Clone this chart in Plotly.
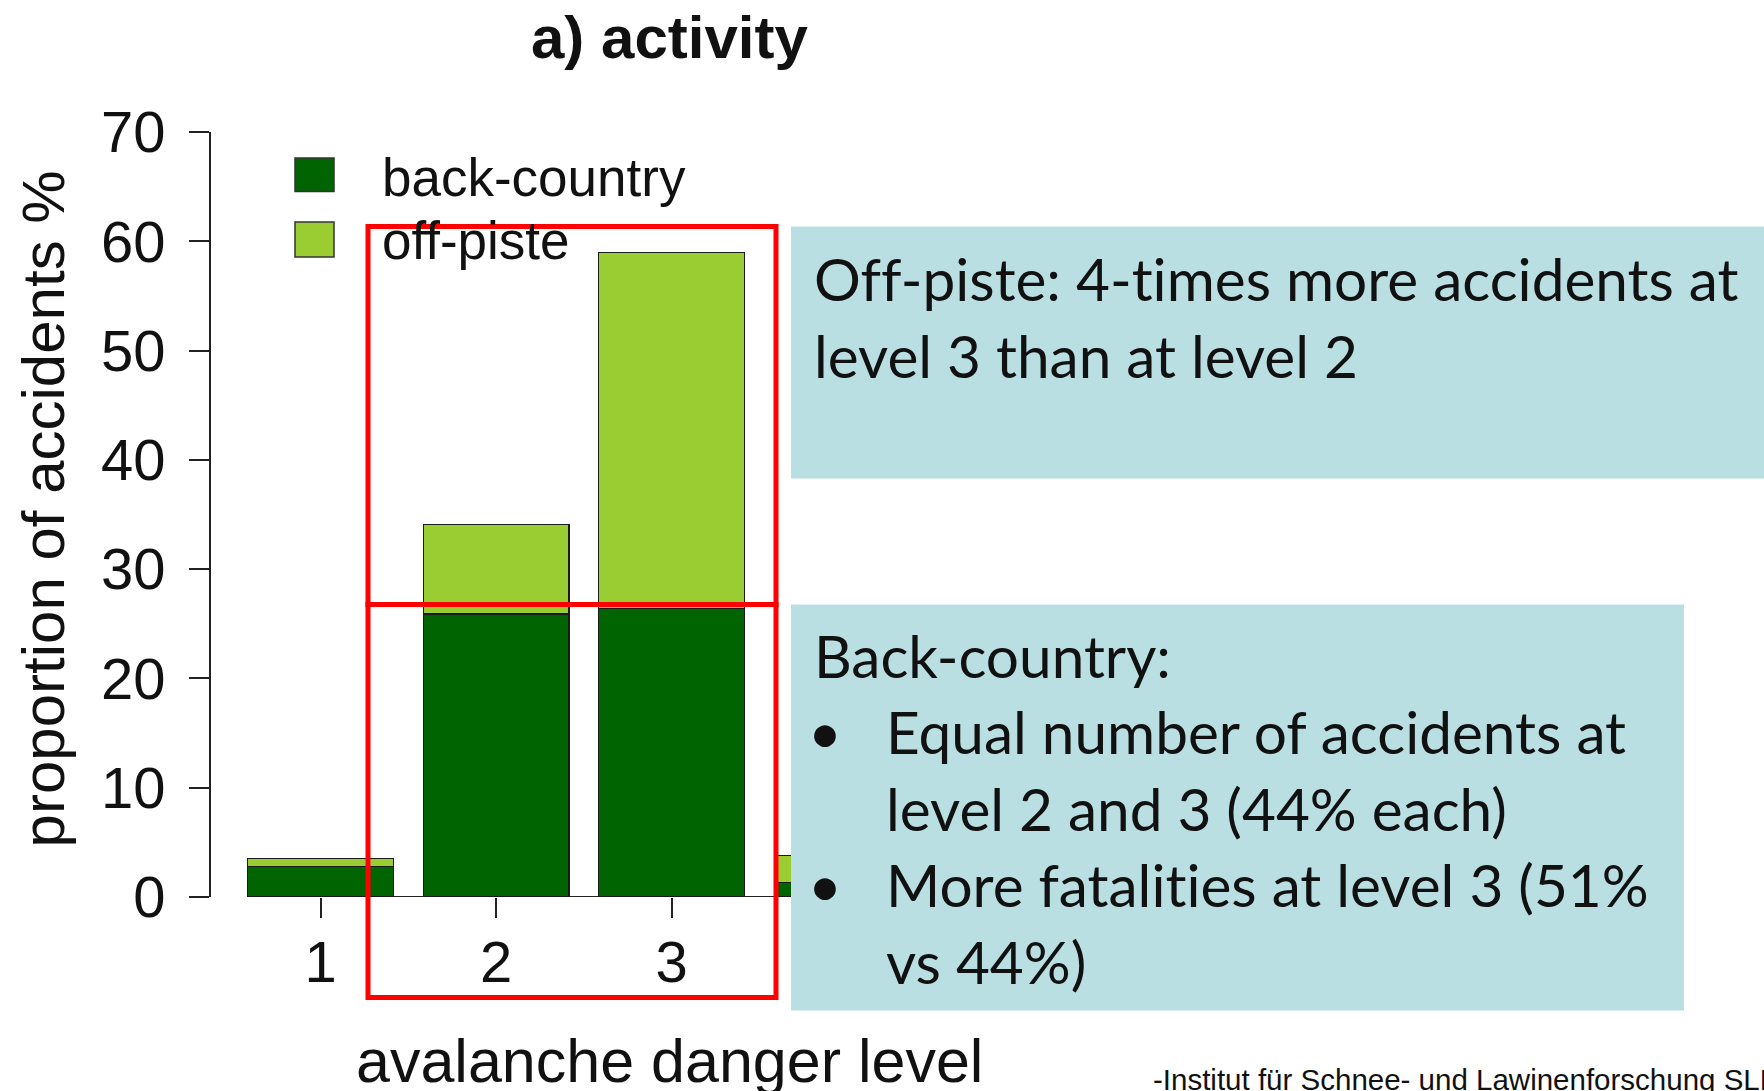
import plotly.graph_objects as go

# --------------------------- DATA ---------------------------
levels = [1, 2, 3, 4]
back_country = [2.8, 25.9, 26.4, 1.3]
off_piste = [0.7, 8.2, 32.6, 2.5]
tick_vals = [1, 2, 3, 4, 5]
tick_labels = ["1", "2", "3", "4", "5"]
y_ticks = [0, 10, 20, 30, 40, 50, 60, 70]

box1_lines = ["Off-piste: 4-times more accidents at", "level 3 than at level 2"]
box2_head = "Back-country:"
box2_lines = [
    ("•", "Equal number of accidents at"),
    ("", "level 2 and 3 (44% each)"),
    ("•", "More fatalities at level 3 (51%"),
    ("", "vs 44%)"),
]

DARK = "#006400"
LIGHT = "#9ACD32"
TEAL = "#B9DFE3"
AX_FONT = "Arial, Liberation Sans, sans-serif"
BOX_FONT = "Lato, Carlito, Calibri, sans-serif"
BOX_SIZE = 58.5

# figure / plot area in pixels
W, H = 1764, 1091
L, R, T, B = 211, 1128, 131.6, 896.6


def px(x):
    return (x - L) / (R - L)


def py(y):
    return (B - y) / (B - T)


fig = go.Figure()

fig.add_trace(go.Bar(
    x=levels, y=back_country, name="back-country", width=0.83,
    marker=dict(color=DARK, line=dict(color="#1a1a1a", width=1.2)),
    showlegend=False,
))
fig.add_trace(go.Bar(
    x=levels, y=off_piste, name="off-piste", width=0.83,
    marker=dict(color=LIGHT, line=dict(color="#1a1a1a", width=1.2)),
    showlegend=False,
))

shapes = []
# R-style x axis line between first and last tick
shapes.append(dict(type="line", xref="x", yref="y", x0=tick_vals[0], x1=tick_vals[-1],
                   y0=0, y1=0, line=dict(color="#222", width=2), layer="below"))

# legend keys
for (y0, y1), col in [((157.5, 191), DARK), ((221.6, 256.5), LIGHT)]:
    shapes.append(dict(type="rect", xref="paper", yref="paper",
                       x0=px(295), x1=px(334), y0=py(y1), y1=py(y0),
                       fillcolor=col, line=dict(color="#333", width=1.5)))

# red highlight boxes
for y0, y1 in [(226, 604), (604, 997)]:
    shapes.append(dict(type="rect", xref="paper", yref="paper",
                       x0=px(368), x1=px(776), y0=py(y1), y1=py(y0),
                       line=dict(color="#FF0000", width=5), layer="above"))

# teal text boxes
shapes.append(dict(type="rect", xref="paper", yref="paper",
                   x0=px(791), x1=px(1770), y0=py(478), y1=py(226),
                   fillcolor=TEAL, line=dict(width=0), layer="above"))
shapes.append(dict(type="rect", xref="paper", yref="paper",
                   x0=px(791), x1=px(1684), y0=py(1010), y1=py(604),
                   fillcolor=TEAL, line=dict(width=0), layer="above"))

annotations = []


def note(text, x, y, size, font=AX_FONT, xanchor="left", angle=0):
    if font == BOX_FONT:
        # break the Lato "ti"/"ff" ligatures, Calibri slides don't use them
        text = text.replace("ti", "t\u200ci").replace("ff", "f\u200cf")
    annotations.append(dict(
        text=text, xref="paper", yref="paper", x=px(x), y=py(y),
        xanchor=xanchor, yanchor="middle", showarrow=False, textangle=angle,
        font=dict(family=font, size=size, color="#111"),
    ))


note("<b>a) activity</b>", 669, 37, 60, xanchor="center")
note("proportion of accidents %", 43, 509, 60, xanchor="center", angle=-90)
note("avalanche danger level", 669, 1061, 61, xanchor="center")
note("back-country", 380, 177, 53)
note("off-piste", 380, 240, 53)
note("-Institut für Schnee- und Lawinenforschung SLF", 1151, 1079, 29.5)

for i, line in enumerate(box1_lines):
    note(line, 812, 278 + i * 76.5, BOX_SIZE, font=BOX_FONT)

note(box2_head, 812, 655, BOX_SIZE, font=BOX_FONT)
for i, (bullet, line) in enumerate(box2_lines):
    y = 731 + i * 76.5
    if bullet:
        note(bullet, 825, y, BOX_SIZE, font=BOX_FONT, xanchor="center")
    note(line, 884, y, BOX_SIZE, font=BOX_FONT)

fig.update_layout(
    width=W, height=H,
    margin=dict(l=L, r=W - R, t=T, b=H - B, pad=0),
    barmode="stack",
    paper_bgcolor="white", plot_bgcolor="white",
    shapes=shapes, annotations=annotations,
    showlegend=False,
    font=dict(family=AX_FONT, color="#111"),
)
fig.update_xaxes(
    range=[0.3755, 5.6], tickvals=tick_vals, ticktext=tick_labels,
    ticks="outside", ticklen=20, tickwidth=2, tickcolor="#222",
    showline=False, showgrid=False, zeroline=False,
    tickfont=dict(size=58), ticklabelstandoff=-6,
)
fig.update_yaxes(
    range=[0, 70], tickvals=y_ticks,
    ticks="outside", ticklen=20, tickwidth=2, tickcolor="#222",
    showline=True, linewidth=2, linecolor="#222",
    showgrid=False, zeroline=False,
    tickfont=dict(size=58), ticklabelstandoff=12,
)

# drop the default page margin so the figure sits at the window corner
fig.write_html("out.html", config={"displayModeBar": False},
               post_script="document.body.style.margin='0';")
